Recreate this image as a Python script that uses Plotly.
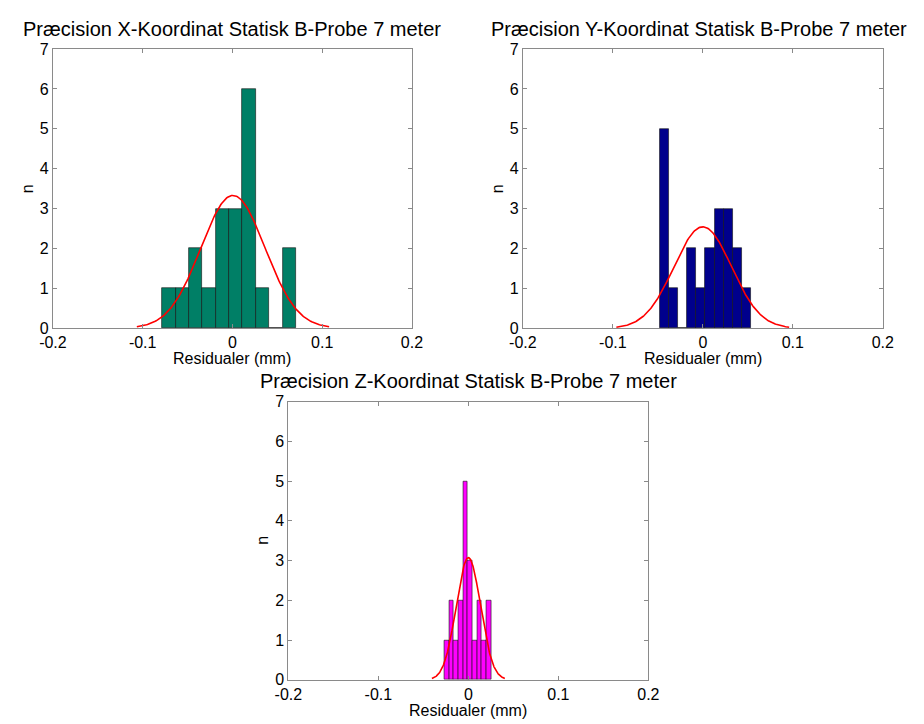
import numpy as np
import plotly.graph_objects as go

W, H = 924, 724

# ---- data ----
titles = ["Præcision X-Koordinat Statisk B-Probe 7 meter",
          "Præcision Y-Koordinat Statisk B-Probe 7 meter",
          "Præcision Z-Koordinat Statisk B-Probe 7 meter"]

x_bin_start, x_bin_width = -0.0783, 0.0149
x_counts = [1, 1, 2, 1, 3, 3, 6, 1, 0, 2]
x_mu, x_sigma = 0.0006, 0.0357

y_bin_start, y_bin_width = -0.0483, 0.0102
y_counts = [5, 1, 0, 2, 1, 2, 3, 3, 2, 1]
y_mu, y_sigma = -0.0001, 0.032

z_bin_start, z_bin_width = -0.0267, 0.0052
z_counts = [1, 2, 1, 2, 5, 3, 1, 2, 1, 2]
z_mu, z_sigma = 0.0, 0.0135

bar_colors = ["#007F66", "#00008C", "#FF00FF"]
x_ticks = [-0.2, -0.1, 0, 0.1, 0.2]
x_tick_text = ["-0.2", "-0.1", "0", "0.1", "0.2"]
y_ticks = [0, 1, 2, 3, 4, 5, 6, 7]

# ---- layout boxes in pixels (left, right, top, bottom) ----
boxes = [(40, 409, 42, 328), (523, 893, 42, 328), (282, 652, 403, 688)]
title_centers = [224.5, 704, 467.5]

sets = [(x_bin_start, x_bin_width, x_counts, x_mu, x_sigma),
        (y_bin_start, y_bin_width, y_counts, y_mu, y_sigma),
        (z_bin_start, z_bin_width, z_counts, z_mu, z_sigma)]

fig = go.Figure()
FONT = "Liberation Sans, Arial, sans-serif"
annotations = []
for i, ((start, width, counts, mu, sigma), color, box, title, tc) in enumerate(
        zip(sets, bar_colors, boxes, titles, title_centers)):
    sfx = "" if i == 0 else str(i + 1)
    centers = [start + width * (k + 0.5) for k in range(len(counts))]
    fig.add_trace(go.Bar(x=centers, y=counts, width=width,
                         marker=dict(color=color, line=dict(color="#111111", width=0.6)),
                         xaxis="x" + sfx, yaxis="y" + sfx, showlegend=False))
    n = sum(counts)
    xs = np.linspace(mu - 3 * sigma, mu + 3 * sigma, 200)
    ys = n * width / (sigma * np.sqrt(2 * np.pi)) * np.exp(-0.5 * ((xs - mu) / sigma) ** 2)
    fig.add_trace(go.Scatter(x=xs, y=ys, mode="lines", line=dict(color="red", width=1.6),
                             xaxis="x" + sfx, yaxis="y" + sfx, showlegend=False))
    l, r, t, b = box
    axcommon = dict(showline=True, linecolor="#8a8a8a", linewidth=1, mirror="ticks",
                    ticks="inside", ticklen=4, tickcolor="#8a8a8a", showgrid=False,
                    zeroline=False, tickfont=dict(family=FONT, size=16, color="black"))
    fig.update_layout(**{
        "xaxis" + sfx: dict(domain=[l / W, r / W], anchor="y" + sfx, range=[-0.2, 0.2],
                            tickvals=x_ticks, ticktext=x_tick_text, ticklabelstandoff=0,
                            **axcommon),
        "yaxis" + sfx: dict(domain=[1 - b / H, 1 - t / H], anchor="x" + sfx, range=[0, 7],
                            tickvals=y_ticks, ticklabelstandoff=0, **axcommon),
    })
    annotations.append(dict(text=title, xref="paper", yref="paper",
                            x=tc / W, y=1 - (t - 21) / H, showarrow=False,
                            font=dict(family=FONT, size=20, color="black"),
                            xanchor="center", yanchor="middle"))
    annotations.append(dict(text="Residualer (mm)", xref="paper", yref="paper",
                            x=(l + r) / 2 / W, y=1 - (b + 31) / H, showarrow=False,
                            font=dict(family=FONT, size=16, color="black"),
                            xanchor="center", yanchor="middle"))
    annotations.append(dict(text="n", xref="paper", yref="paper", textangle=-90,
                            x=(l - 26) / W, y=1 - (t + b) / 2 / H, showarrow=False,
                            font=dict(family=FONT, size=16, color="black"),
                            xanchor="center", yanchor="middle"))

fig.update_layout(width=W, height=H, margin=dict(l=0, r=0, t=0, b=0),
                  paper_bgcolor="white", plot_bgcolor="white", bargap=0,
                  annotations=annotations)
fig.write_html("out.html")
